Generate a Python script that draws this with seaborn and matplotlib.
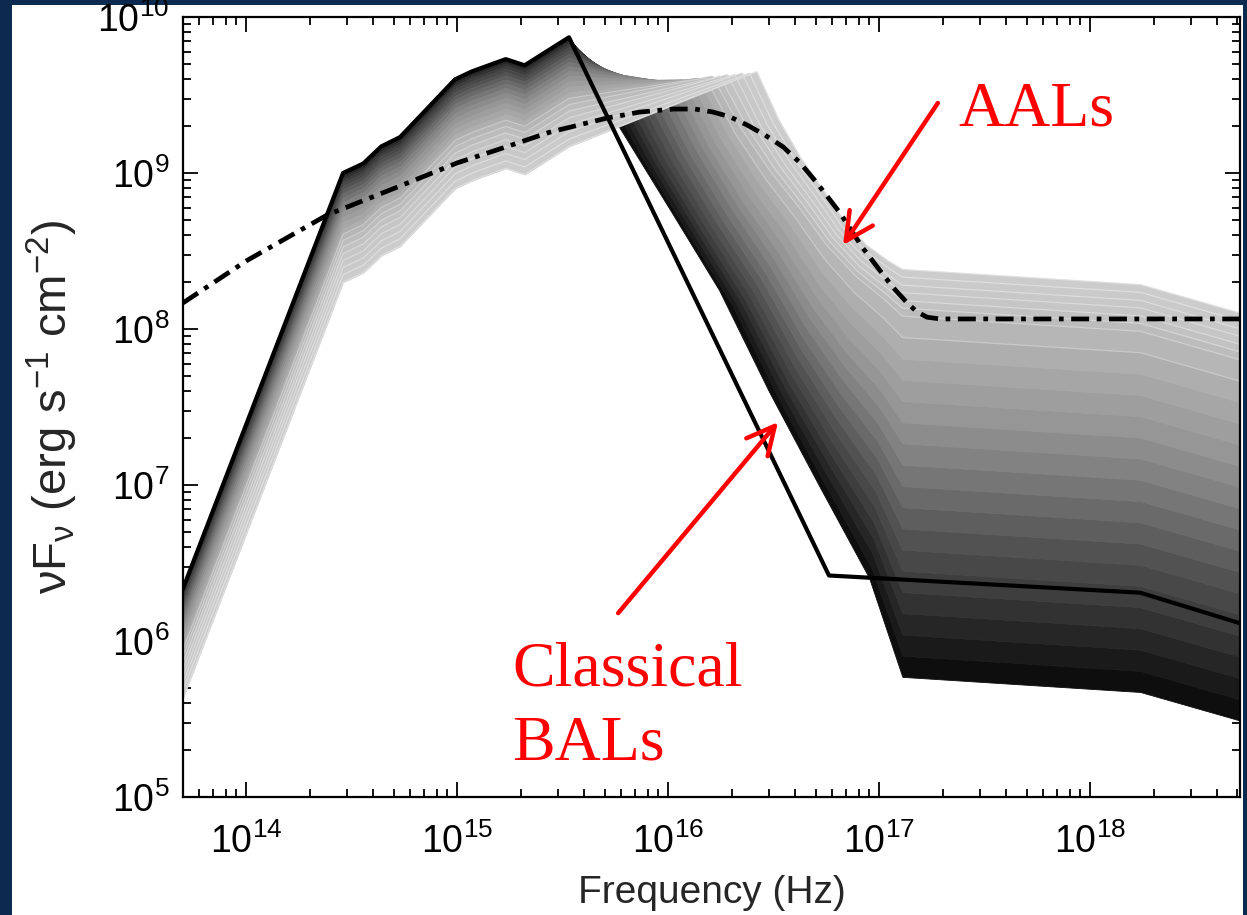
import numpy as np
import pandas as pd
import matplotlib
matplotlib.use("Agg")
import matplotlib.pyplot as plt
import seaborn as sns
from matplotlib.patches import Rectangle

# ---------------- data ----------------
# solid black SED
sed_freq = [5.0e13, 2.88e14, 3.59e14, 4.37e14, 5.37e14, 9.77e14, 1.17e15, 1.70e15,
            2.09e15, 3.39e15, 5.79e16, 1.73e18, 5.14e18]
sed_flux = [2.14e6, 1.00e9, 1.15e9, 1.48e9, 1.70e9, 3.98e9, 4.47e9, 5.37e9,
            4.90e9, 7.41e9, 2.63e6, 2.04e6, 1.30e6]

# dash-dot SED
dd_freq = [5.02e13, 1.00e14, 2.42e14, 5.37e14, 1.00e15, 1.53e15, 2.76e15, 5.14e15,
           7.36e15, 1.06e16, 1.34e16, 1.63e16, 1.97e16, 2.37e16, 2.88e16, 3.51e16,
           4.23e16, 5.08e16, 6.53e16, 8.30e16, 9.89e16, 1.16e17, 1.36e17, 1.51e17,
           1.69e17, 1.95e17, 5.14e18]
dd_flux = [1.47e8, 2.73e8, 5.38e8, 8.26e8, 1.16e9, 1.40e9, 1.83e9, 2.25e9,
           2.46e9, 2.57e9, 2.57e9, 2.46e9, 2.29e9, 2.03e9, 1.75e9, 1.47e9,
           1.16e9, 8.63e8, 5.55e8, 3.36e8, 2.46e8, 1.86e8, 1.47e8, 1.29e8,
           1.19e8, 1.16e8, 1.16e8]

# grey family of model SEDs (darkest = index 0, lightest = last)
fam_uv_freq = sed_freq[:10]
fam_uv_top = sed_flux[:10]
fam_uv_dex = [0.0, 0.005, 0.014, 0.027, 0.043, 0.061, 0.082, 0.104, 0.129, 0.156,
              0.185, 0.215, 0.247, 0.281, 0.316, 0.353, 0.391, 0.431, 0.473, 0.516,
              0.560, 0.605, 0.652, 0.700]
fam_peak_freq = [3.39e15, 4.47e15, 4.84e15, 5.25e15, 5.69e15, 6.17e15, 6.68e15, 7.24e15,
                 7.85e15, 8.51e15, 9.23e15, 1.00e16, 1.08e16, 1.17e16, 1.27e16, 1.38e16,
                 1.50e16, 1.62e16, 1.76e16, 1.91e16, 2.07e16, 2.24e16, 2.43e16, 2.63e16]
fam_peak_flux = [7.41e9, 4.57e9, 4.37e9, 4.17e9, 3.98e9, 3.89e9, 3.80e9, 3.80e9,
                 3.80e9, 3.80e9, 3.89e9, 3.89e9, 3.89e9, 3.98e9, 3.98e9, 4.07e9,
                 4.07e9, 4.17e9, 4.17e9, 4.27e9, 4.27e9, 4.37e9, 4.37e9, 4.47e9]
fam_knee_flux = [5.89e5, 8.05e5, 1.10e6, 1.51e6, 2.06e6, 2.82e6, 3.85e6, 5.27e6,
                 7.21e6, 9.86e6, 1.35e7, 1.85e7, 2.52e7, 3.45e7, 4.72e7, 6.46e7,
                 8.83e7, 1.21e8, 1.36e8, 1.52e8, 1.71e8, 1.91e8, 2.15e8, 2.41e8]
knee_freq = 1.29e17
tail_freq = [1.73e18, 5.14e18]
tail_rel = [0.80, 0.525]
drop_u = [0.15, 0.30, 0.45, 0.60, 0.75, 0.90]
drop_v_dark = [0.860, 0.733, 0.605, 0.446, 0.299, 0.155]
drop_v_light = [0.757, 0.565, 0.409, 0.245, 0.124, 0.044]
band_gray = [14, 26, 38, 50, 62, 72, 82, 94, 106, 118, 130, 140, 150, 158, 166,
             174, 182, 188, 194, 198, 200, 202, 204]

x_lim = (5.02e13, 5.14e18)
y_lim = (1e5, 1e10)

# ---------------- style ----------------
sns.set_style("ticks")
plt.rcParams["font.family"] = ["Liberation Sans", "DejaVu Sans"]
plt.rcParams["mathtext.fontset"] = "custom"
plt.rcParams["mathtext.rm"] = "Liberation Sans"
plt.rcParams["mathtext.it"] = "Liberation Sans:italic"
plt.rcParams["mathtext.default"] = "regular"

navy = "#0c2a50"
fig = plt.figure(figsize=(12.47, 9.15), dpi=100, facecolor=navy)
fig.patches.append(Rectangle((12 / 1247, 0), (1243 - 12) / 1247, 910 / 915,
                             transform=fig.transFigure, facecolor="white",
                             edgecolor="none", zorder=-10))
ax = fig.add_axes([183 / 1247, 1 - 797 / 915, (1240 - 183) / 1247, (797 - 17) / 915])
ax.set_facecolor("white")
ax.set_xscale("log")
ax.set_yscale("log")

# ---------------- grey family ----------------
lg = np.log10
N = len(fam_uv_dex)
grid = np.linspace(lg(x_lim[0]), lg(x_lim[1]), 4000)
Y = []
for k in range(N):
    t = k / (N - 1)
    xs = list(lg(fam_uv_freq))
    ys = list(lg(fam_uv_top) - fam_uv_dex[k])
    lp = lg(fam_peak_freq[k])
    P = lg(fam_peak_flux[k])
    if lp > xs[-1] + 1e-6:
        xs.append(lp)
        ys.append(P)
    else:
        ys[-1] = P
    X = lg(fam_knee_flux[k])
    lk = lg(knee_freq)
    v = (1 - t) * np.array(drop_v_dark) + t * np.array(drop_v_light)
    for uu, vv in zip(drop_u, v):
        xs.append(lp + uu * (lk - lp))
        ys.append(X + vv * (P - X))
    xs.append(lk)
    ys.append(X)
    for f, r in zip(tail_freq, tail_rel):
        xs.append(lg(f))
        ys.append(X + lg(r))
    Y.append(np.interp(grid, xs, ys))

gx = 10 ** grid
for k in range(N - 1):
    g = band_gray[k] / 255
    c = (g, g, g)
    ax.fill_between(gx, 10 ** Y[k], 10 ** Y[k + 1], facecolor=c, edgecolor=c,
                    lw=0.6, zorder=1)
for k in range(16, N):
    g = min(band_gray[min(k, N - 2)] + 20, 236) / 255
    ax.plot(gx, 10 ** Y[k], color=(g, g, g), lw=0.8, zorder=1.5)

# ---------------- lines ----------------
df_sed = pd.DataFrame({"freq": sed_freq, "flux": sed_flux})
df_dd = pd.DataFrame({"freq": dd_freq, "flux": dd_flux})
sns.lineplot(data=df_sed, x="freq", y="flux", ax=ax, color="black", lw=3.0,
             sort=False, estimator=None, zorder=3)
sns.lineplot(data=df_dd, x="freq", y="flux", ax=ax, color="black", lw=3.4,
             sort=False, estimator=None, zorder=4)
ax.lines[-1].set_linestyle((0, (3.8, 1.6, 1.0, 1.6)))
ax.lines[-1].set_dash_capstyle("butt")
ax.lines[-1].set_solid_joinstyle("round")

ax.set_xlim(*x_lim)
ax.set_ylim(*y_lim)

# ---------------- axes styling ----------------
for s in ax.spines.values():
    s.set_linewidth(1.6)
    s.set_color("black")
    s.set_zorder(6)
ax.tick_params(which="both", direction="in", top=True, right=True,
               colors="black", width=1.3, labelsize=27)
ax.tick_params(which="major", length=11)
ax.tick_params(which="minor", length=5.5)
ax.tick_params(axis="x", which="major", pad=19)
ax.tick_params(axis="y", which="major", pad=10)
ax.xaxis.set_major_locator(matplotlib.ticker.LogLocator(base=10, numticks=20))
ax.xaxis.set_minor_locator(matplotlib.ticker.LogLocator(base=10, subs=np.arange(2, 10), numticks=100))
ax.yaxis.set_major_locator(matplotlib.ticker.LogLocator(base=10, numticks=20))
ax.yaxis.set_minor_locator(matplotlib.ticker.LogLocator(base=10, subs=np.arange(2, 10), numticks=100))
ax.xaxis.set_minor_formatter(matplotlib.ticker.NullFormatter())
ax.yaxis.set_minor_formatter(matplotlib.ticker.NullFormatter())

ax.set_xlabel("Frequency (Hz)", fontsize=28, labelpad=10)
ax.set_ylabel(r"$\nu$F$_\nu$ (erg s$^{-1}$ cm$^{-2}$)", fontsize=34, labelpad=12)

# ---------------- annotations ----------------
red = "#ff0000"
ax.annotate("", xy=(6.75e16, 3.45e8), xytext=(1.9e17, 2.81e9),
            arrowprops=dict(arrowstyle="->,head_length=0.8,head_width=0.4",
                            color=red, lw=3.2, mutation_scale=25,
                            shrinkA=0, shrinkB=0), zorder=7)
ax.annotate("", xy=(3.32e16, 2.53e7), xytext=(5.8e15, 1.51e6),
            arrowprops=dict(arrowstyle="->,head_length=0.8,head_width=0.4",
                            color=red, lw=3.2, mutation_scale=25,
                            shrinkA=0, shrinkB=0), zorder=7)
ax.text(2.37e17, 2.03e9, "AALs", color=red, fontsize=46,
        family="Liberation Serif", va="baseline", ha="left", zorder=7)
ax.text(1.82e15, 5.22e5, "Classical", color=red, fontsize=46,
        family="Liberation Serif", va="baseline", ha="left", zorder=7)
ax.text(1.82e15, 1.73e5, "BALs", color=red, fontsize=46,
        family="Liberation Serif", va="baseline", ha="left", zorder=7)

fig.savefig("out.png", dpi=100, facecolor=fig.get_facecolor())
